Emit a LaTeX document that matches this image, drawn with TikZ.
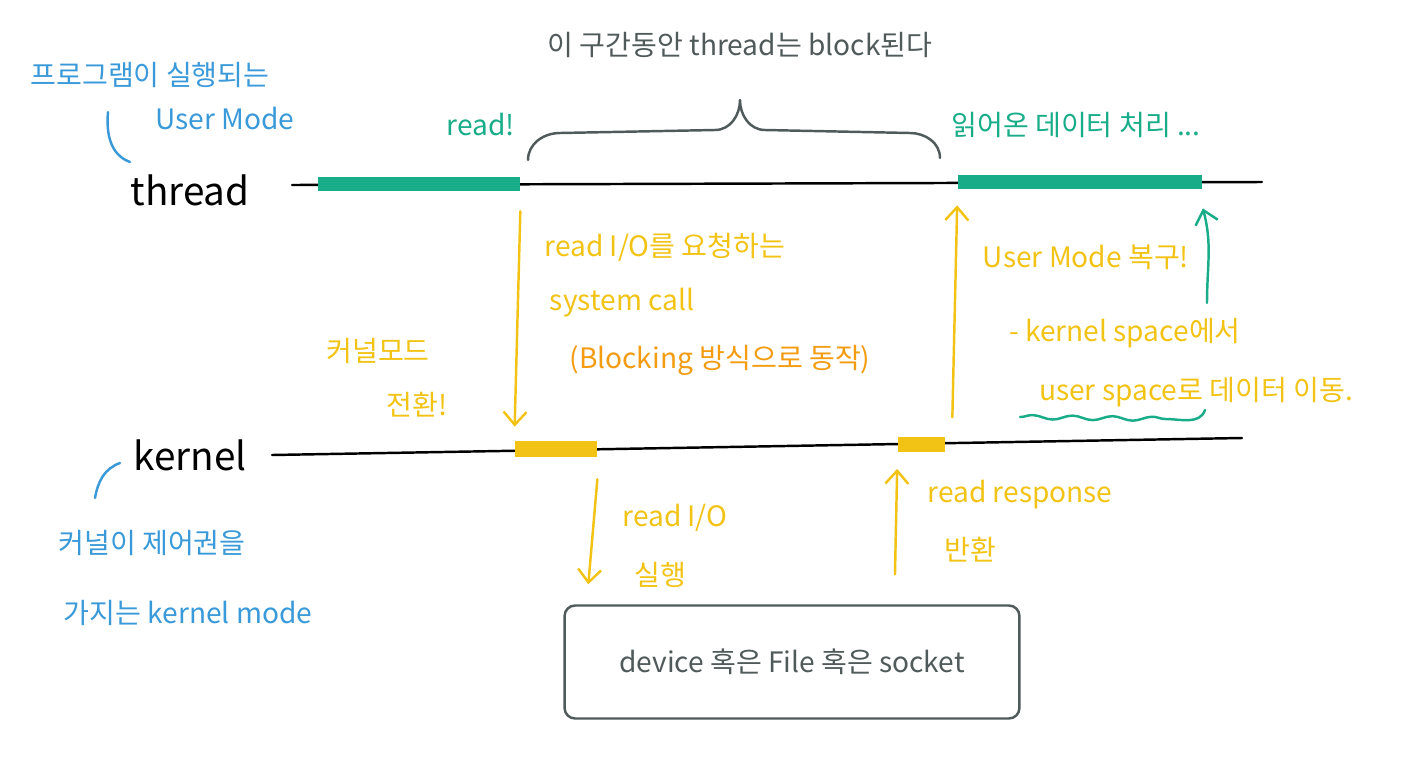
\documentclass[tikz,border=0pt]{standalone}
\usepackage{fontspec}
\setmainfont{Noto Sans CJK KR}
\usetikzlibrary{arrows.meta,decorations.pathmorphing}
\definecolor{penblue}{RGB}{58,154,217}
\definecolor{pengreen}{RGB}{24,172,136}
\definecolor{penyellow}{RGB}{242,195,20}
\definecolor{penorange}{RGB}{243,156,18}
\definecolor{pengray}{RGB}{80,90,90}
\tikzset{
  hand/.style={font=\fontsize{16}{18}\selectfont, inner sep=1pt},
  big/.style={font=\fontsize{22}{24}\selectfont},
  bar/.style={fill=#1, inner sep=0pt, minimum height=0.28cm},
  pen/.style={line width=1.4pt},
  tip/.style={-{Straight Barb[length=2.6mm,width=4.6mm]}}
}
\begin{document}
\begin{tikzpicture}[x=0.02cm,y=-0.02cm,line cap=round,line join=round]
  \useasboundingbox (0,0) rectangle (1421,758);

  % Time lines
  \node[big] (thread) at (190,190) {thread};
  \node[big] (kernel) at (190,455) {kernel};
  \draw[pen] (292,185) -- (1262,182);
  \draw[pen] (272,455) -- (1242,438);

  % Running segments
  \node[bar=pengreen, minimum width=4.04cm] (ub1) at (419,184) {};
  \node[bar=pengreen, minimum width=4.9cm]  (ub2) at (1080,182) {};
  \node[bar=penyellow, minimum width=1.64cm, minimum height=0.32cm] (kb1) at (556,449) {};
  \node[bar=penyellow, minimum width=0.94cm, minimum height=0.3cm]  (kb2) at (921,444) {};

  % Device box
  \node[draw=pengray, pen, rounded corners=6pt, minimum width=9.1cm, minimum height=2.26cm,
        hand, text=pengray] (dev) at (792,662) {device 혹은 File 혹은 socket};

  % Blocked interval
  \node[hand, text=pengray] (block) at (740,45) {이 구간동안 thread는 block된다};
  \draw[pengray, pen] (528,160) to[out=90,in=180] (560,133) -- (715,130)
    to[out=0,in=-90] (740,100) to[out=-90,in=180] (765,130) -- (910,133)
    to[out=0,in=90] (940,158);

  % User mode notes
  \node[hand, text=pengreen] (read) at (481,124) {read!};
  \node[hand, text=pengreen] (proc) at (1076,125) {읽어온 데이터 처리 ...};
  \node[hand, text=penblue] (um1) at (150,75) {프로그램이 실행되는};
  \node[hand, text=penblue] (um2) at (225,118) {User Mode};
  \draw[penblue, pen] (108,112) to[out=-95,in=160] (130,162);

  % Kernel mode notes
  \node[hand, text=penblue] (km1) at (152,543) {커널이 제어권을};
  \node[hand, text=penblue] (km2) at (188,613) {가지는 kernel mode};
  \draw[penblue, pen] (120,463) to[out=200,in=80] (95,498);

  % System call
  \draw[penyellow, pen, tip] ([yshift=-0.4cm]ub1.south east) -- ([yshift=0.28cm]kb1.north west);
  \node[hand, text=penyellow] (sc1) at (665,247) {read I/O를 요청하는};
  \node[hand, text=penyellow] (sc2) at (622,303) {system call};
  \node[hand, text=penorange] (sc3) at (720,360) {(Blocking 방식으로 동작)};
  \node[hand, text=penyellow] (sw1) at (378,351) {커널모드};
  \node[hand, text=penyellow] (sw2) at (417,405) {전환!};

  % Return to user mode
  \draw[penyellow, pen, tip] ([shift={(0.15cm,0.38cm)}]kb2.north east) -- ([yshift=-0.32cm]ub2.south west);
  \node[hand, text=penyellow] (ret) at (1086,257) {User Mode 복구!};
  \node[hand, text=penyellow] (cp1) at (1125,333) {- kernel space에서};
  \node[hand, text=penyellow] (cp2) at (1196,392) {user space로 데이터 이동.};
  \draw[pengreen, pen, tip] (1207,303) to[out=90,in=-75] ([yshift=-0.38cm]ub2.south east);
  \draw[pengreen, pen, decorate, decoration={snake, amplitude=1.2pt, segment length=0.8cm}]
    (1020,417) -- (1165,419);
  \draw[pengreen, pen] (1165,419) to[out=0,in=-110] (1205,410);

  % Device I/O
  \draw[penyellow, pen, tip] ([yshift=-0.44cm]kb1.south east) -- ([shift={(0.5cm,0.4cm)}]dev.north west);
  \node[hand, text=penyellow] (io1) at (675,518) {read I/O};
  \node[hand, text=penyellow] (io2) at (660,575) {실행};
  \draw[penyellow, pen, tip] ([shift={(2.06cm,0.6cm)}]dev.north) -- ([yshift=-0.34cm]kb2.south west);
  \node[hand, text=penyellow] (rs1) at (1020,495) {read response};
  \node[hand, text=penyellow] (rs2) at (970,550) {반환};
\end{tikzpicture}
\end{document}
